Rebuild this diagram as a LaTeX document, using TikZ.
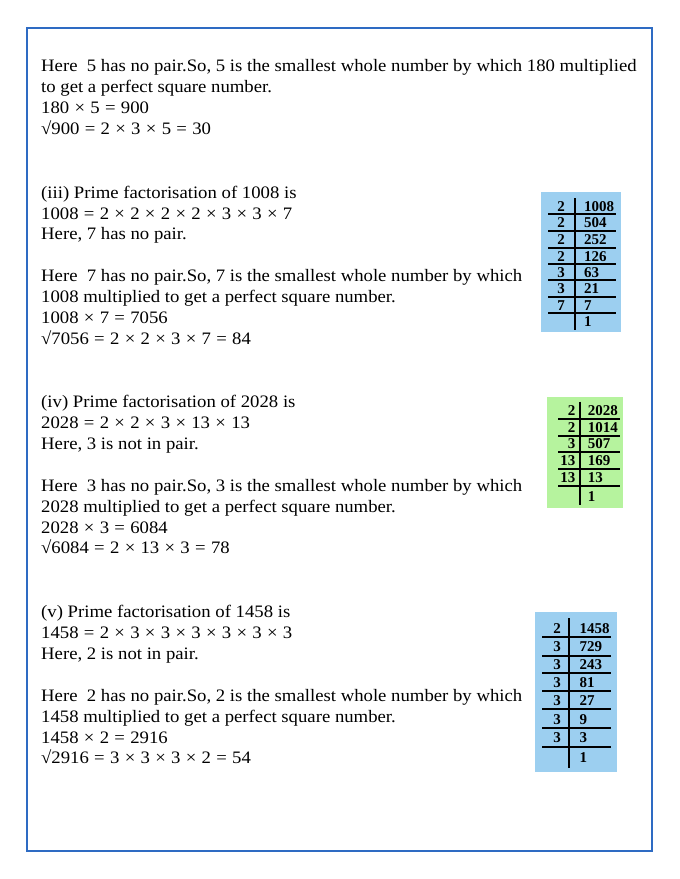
\documentclass[tikz,border=0pt]{standalone}
\usepackage{fontspec}
\setmainfont{Liberation Serif}[FakeStretch=1.07]
\newfontfamily\tabfont{Liberation Serif}
\newcommand\widespaces{\spaceskip=5.3pt plus 1pt\relax}
\definecolor{framec}{HTML}{2E6BC3}
\definecolor{tblue}{HTML}{9CCFF0}
\definecolor{tgreen}{HTML}{B6F39E}
\tikzset{
  txt/.style={anchor=base west, inner sep=0pt, font=\fontsize{17.5}{20}\selectfont},
  mtxt/.style={txt, font=\fontsize{17.5}{20}\selectfont\widespaces},
  num/.style={inner sep=0pt, font=\tabfont\fontsize{15}{16}\selectfont\bfseries},
  lnum/.style={num, anchor=base east},
  rnum/.style={num, anchor=base west},
  hrule/.style={line width=1.8pt, black},
  vrule/.style={line width=1.2pt, black},
  frame/.style={draw=framec, line width=2.4pt},
}
\begin{document}
\begin{tikzpicture}[x=1pt,y=-1pt]
\useasboundingbox (0,0) rectangle (680,879);
\draw[frame] (27,28) rectangle (652,851);

% section 1
\node[txt] (s1a) at (41,71) {Here~ 5 has no pair.So, 5 is the smallest whole number by which 180 multiplied};
\node[txt] (s1b) at (41,92) {to get a perfect square number.};
\node[mtxt] (s1c) at (41,113) {180 × 5 = 900};
\node[mtxt] (s1d) at (41,134) {√900 = 2 × 3 × 5 = 30};

% section 2
\node[txt] (s2a) at (41,198) {(iii) Prime factorisation of 1008 is};
\node[mtxt] (s2b) at (41,219) {1008 = 2 × 2 × 2 × 2 × 3 × 3 × 7};
\node[txt] (s2c) at (41,239.5) {Here, 7 has no pair.};
\node[txt] (s2d) at (41,281.5) {Here~ 7 has no pair.So, 7 is the smallest whole number by which};
\node[txt] (s2e) at (41,302.3) {1008 multiplied to get a perfect square number.};
\node[mtxt] (s2f) at (41,323) {1008 × 7 = 7056};
\node[mtxt] (s2g) at (41,344) {√7056 = 2 × 2 × 3 × 7 = 84};

% section 3
\node[txt] (s3a) at (41,407.7) {(iv) Prime factorisation of 2028 is};
\node[mtxt] (s3b) at (41,428.3) {2028 = 2 × 2 × 3 × 13 × 13};
\node[txt] (s3c) at (41,449) {Here, 3 is not in pair.};
\node[txt] (s3d) at (41,491.7) {Here~ 3 has no pair.So, 3 is the smallest whole number by which};
\node[txt] (s3e) at (41,512.7) {2028 multiplied to get a perfect square number.};
\node[mtxt] (s3f) at (41,533.3) {2028 × 3 = 6084};
\node[mtxt] (s3g) at (41,553.3) {√6084 = 2 × 13 × 3 = 78};

% section 4
\node[txt] (s4a) at (41,617.7) {(v) Prime factorisation of 1458 is};
\node[mtxt] (s4b) at (41,638.3) {1458 = 2 × 3 × 3 × 3 × 3 × 3 × 3};
\node[txt] (s4c) at (41,659) {Here, 2 is not in pair.};
\node[txt] (s4d) at (41,701.7) {Here~ 2 has no pair.So, 2 is the smallest whole number by which};
\node[txt] (s4e) at (41,722.7) {1458 multiplied to get a perfect square number.};
\node[mtxt] (s4f) at (41,743.3) {1458 × 2 = 2916};
\node[mtxt] (s4g) at (41,763.3) {√2916 = 3 × 3 × 3 × 2 = 54};

% table 1
\fill[tblue] (541,192) rectangle (621,332);
\draw[vrule] (575,198) -- (575,330);
\foreach \y in {214.3,231,247.7,263.7,280,296.7,313.3} \draw[hrule] (548,\y) -- (616,\y);
\foreach \l/\r/\b [count=\i] in {2/1008/211,2/504/227.7,2/252/244.3,2/126/261,3/63/277,3/21/293.5,7/7/310,{}/1/326.7}{
  \node[lnum] (ta\i l) at (565,\b) {\l};
  \node[rnum] (ta\i r) at (584,\b) {\r};
}

% table 2
\fill[tgreen] (547,397) rectangle (623,508);
\draw[vrule] (580,401.7) -- (580,505);
\foreach \y in {419,435.7,451.7,468.7,485.7} \draw[hrule] (558,\y) -- (620,\y);
\foreach \l/\r/\b [count=\i] in {2/2028/415,2/1014/432,3/507/448.5,13/169/465,13/13/482,{}/1/501}{
  \node[lnum] (tb\i l) at (575.5,\b) {\l};
  \node[rnum] (tb\i r) at (587.7,\b) {\r};
}

% table 3
\fill[tblue] (535,612) rectangle (617,772);
\draw[vrule] (569,618) -- (569,768);
\foreach \y in {637.3,655.7,673.3,691,709.3,728.3,746.7} \draw[hrule] (542,\y) -- (611,\y);
\foreach \l/\r/\b [count=\i] in {2/1458/633.3,3/729/651.7,3/243/669.3,3/81/687,3/27/705.3,3/9/724.3,3/3/742.7,{}/1/762.7}{
  \node[lnum] (tc\i l) at (561,\b) {\l};
  \node[rnum] (tc\i r) at (579.3,\b) {\r};
}
\end{tikzpicture}
\end{document}
